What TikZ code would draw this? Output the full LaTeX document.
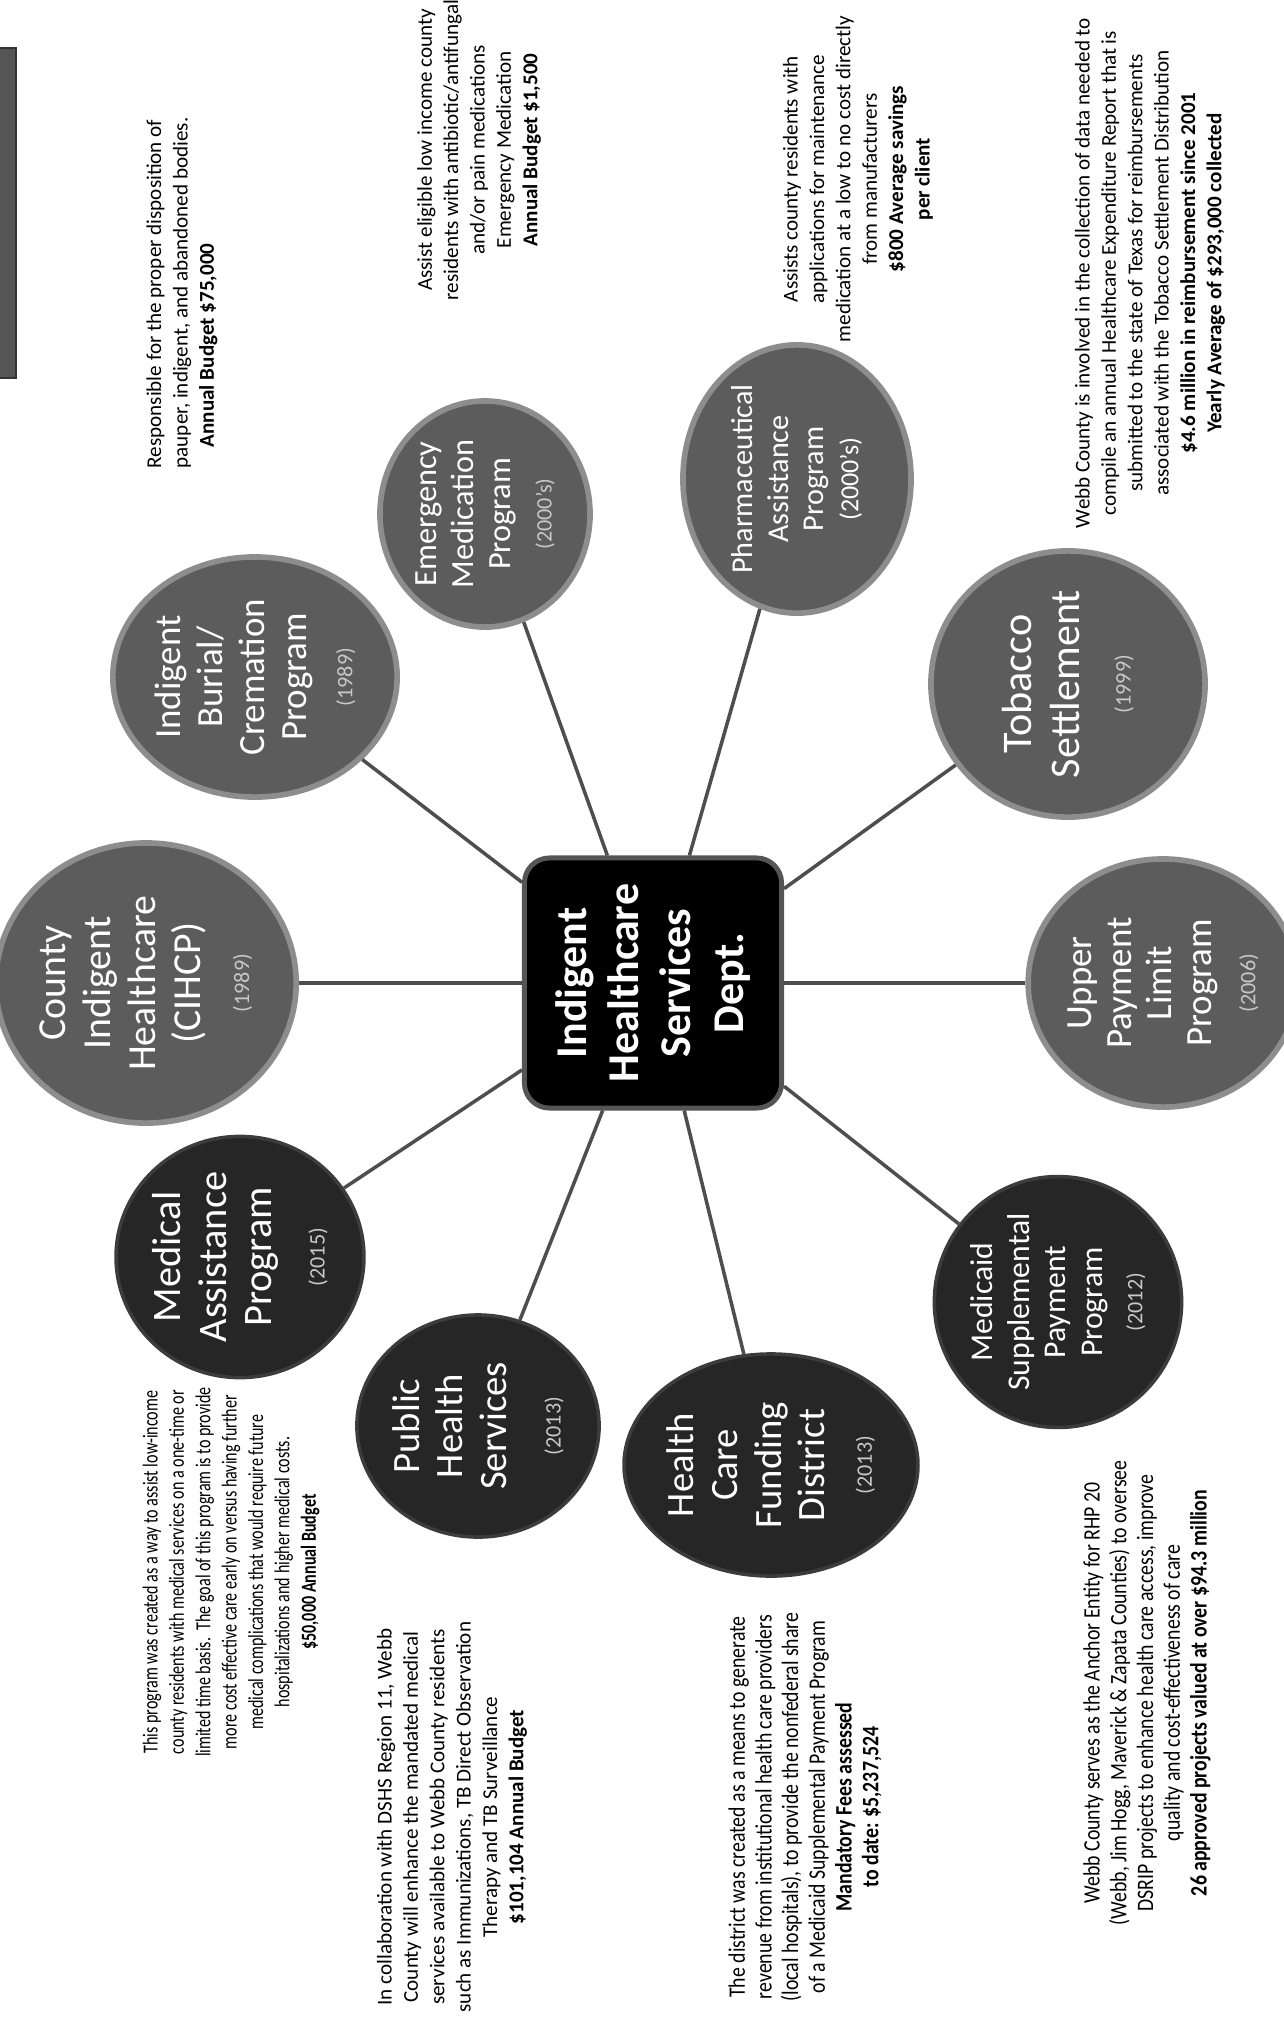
\documentclass[tikz,border=0pt]{standalone}
\usepackage{fontspec}
\setmainfont{Carlito}
\newfontfamily\condfont[FakeStretch=0.84]{Carlito}
\newfontfamily\narrowfont[FakeStretch=0.75]{Carlito}
\usetikzlibrary{shapes.geometric,positioning}
\definecolor{progGray}{RGB}{92,92,92}
\definecolor{progDark}{RGB}{38,38,38}
\definecolor{linkGray}{RGB}{78,78,78}
\definecolor{yearGray}{RGB}{200,200,200}
\definecolor{boxGray}{RGB}{85,85,85}

\tikzset{
  prog/.style={ellipse, inner sep=0pt, text=white, align=center, rotate=90},
  lightprog/.style={prog, fill=progGray, draw=progGray!70, line width=1.6pt},
  darkprog/.style={prog, fill=progDark, draw=progDark!90, line width=1pt},
  link/.style={draw=linkGray, line width=1pt},
  desc/.style={rotate=90, align=center, inner sep=0pt, font=\fontsize{6}{7.5}\selectfont},
  conddesc/.style={desc, font=\condfont\fontsize{6.7}{7.6}\selectfont},
  narrowdesc/.style={desc, font=\narrowfont\fontsize{6.1}{7.5}\selectfont},
}
\newcommand{\yr}[1]{{\fontsize{6.3}{8}\selectfont\color{yearGray}#1}}

\begin{document}
\begin{tikzpicture}[x=0.01cm, y=-0.01cm]
  \useasboundingbox (0,0) rectangle (1284,2041);
  \clip (0,0) rectangle (1284,2041);

  % corner tab
  \fill [boxGray, draw=black!80, line width=0.6pt] (-10,48) rectangle (16,378);

  % department:
  \node [rectangle, rounded corners=0.25cm, fill=black, draw=boxGray, line width=1.4pt,
         rotate=90, minimum width=2.5cm, minimum height=2.57cm, inner sep=0pt,
         text=white, align=center, font=\bfseries\fontsize{12.5}{14.8}\selectfont]
    (dept) at (653,983) {Indigent\\Healthcare\\Services\\Dept.};

  % programs, upper half:
  \node [lightprog, minimum width=2.8cm, minimum height=2.74cm, font=\fontsize{11.3}{12.8}\selectfont]
    (cihcp) at (146,983) {County\\Indigent\\Healthcare\\(CIHCP)\\[1pt]\yr{(1989)}};
  \node [lightprog, minimum width=2.4cm, minimum height=2.3cm, font=\fontsize{10.5}{12}\selectfont]
    (burial) at (255,677) {Indigent\\Burial/\\Cremation\\Program\\[1pt]\yr{(1989)}};
  \node [lightprog, minimum width=2.26cm, minimum height=2.1cm, font=\fontsize{9.2}{10.6}\selectfont]
    (emerg) at (485,514) {Emergency\\Medication\\Program\\[1pt]\yr{(2000’s)}};
  \node [lightprog, minimum width=2.26cm, minimum height=2.28cm, font=\fontsize{8.6}{10}\selectfont]
    (pharma) at (797,479) {Pharmaceutical\\Assistance\\Program\\{\fontsize{7.4}{9}\selectfont(2000’s)}};
  \node [lightprog, minimum width=2.6cm, minimum height=2.74cm, font=\fontsize{12}{13.6}\selectfont]
    (tobacco) at (1068,684) {Tobacco\\Settlement\\[1pt]\yr{(1999)}};
  \node [lightprog, minimum width=2.48cm, minimum height=2.42cm, font=\fontsize{10.5}{11.4}\selectfont]
    (upl) at (1163,983) {Upper\\Payment\\Limit\\Program\\[1pt]\yr{(2006)}};

  % programs, lower half:
  \node [darkprog, minimum width=2.22cm, minimum height=2.02cm, font=\fontsize{9}{10.4}\selectfont]
    (msp) at (1058,1302) {Medicaid\\Supplemental\\Payment\\Program\\[1pt]\yr{(2012)}};
  \node [darkprog, minimum width=2.22cm, minimum height=2.14cm, font=\fontsize{11}{12.4}\selectfont]
    (hcfd) at (771,1465) {Health\\Care\\Funding\\District\\[1pt]\yr{(2013)}};
  \node [darkprog, minimum width=2.22cm, minimum height=2.14cm, font=\fontsize{11}{12.4}\selectfont]
    (phs) at (478,1426) {Public\\Health\\Services\\[3pt]\yr{(2013)}};
  \node [darkprog, minimum width=2.22cm, minimum height=2.24cm, font=\fontsize{11.5}{13}\selectfont]
    (map) at (240,1257) {Medical\\Assistance\\Program\\[2pt]\yr{(2015)}};

  % spokes:
  \draw [link] (cihcp) -- (dept);
  \draw [link] (burial) -- (dept);
  \draw [link] (emerg) -- (dept);
  \draw [link] (pharma) -- (dept);
  \draw [link] (tobacco) -- (dept);
  \draw [link] (upl) -- (dept);
  \draw [link] (msp) -- (dept);
  \draw [link] (hcfd) -- (dept);
  \draw [link] (phs) -- (dept);
  \draw [link] (map) -- (dept);

  % descriptions:
  \node [desc, align=left, anchor=west] (burialtxt) at (182,469)
    {Responsible for the proper disposition of\\pauper, indigent, and abandoned bodies.\\\hspace*{1em}\textbf{Annual Budget \$75,000}};
  \node [desc] (emergtxt) at (479,150)
    {Assist eligible low income county\\residents with antibiotic/antifungal\\and/or pain medications\\Emergency Medication\\\textbf{Annual Budget \$1,500}};
  \node [desc] (pharmatxt) at (858,179)
    {Assists county residents with\\applications for maintenance\\medication at a low to no cost directly\\from manufacturers\\\textbf{\$800 Average savings}\\\textbf{per client}};
  \node [desc] (tobaccotxt) at (1150,273)
    {Webb County is involved in the collection of data needed to\\compile an annual Healthcare Expenditure Report that is\\submitted to the state of Texas for reimbursements\\associated with the Tobacco Settlement Distribution\\\textbf{\$4.6 million in reimbursement since 2001}\\\textbf{Yearly Average of \$293,000 collected}};
  \node [narrowdesc] (maptxt) at (231,1572)
    {This program was created as a way to assist low-income\\county residents with medical services on a one-time or\\limited time basis.\ \ The goal of this program is to provide\\more cost effective care early on versus having further\\medical complications that would require future\\hospitalizations and higher medical costs.\\\textbf{\$50,000 Annual Budget}};
  \node [desc] (phstxt) at (452,1817)
    {In collaboration with DSHS Region 11, Webb\\County will enhance the mandated medical\\services available to Webb County residents\\such as Immunizations, TB Direct Observation\\Therapy and TB Surveillance\\\textbf{\$101,104 Annual Budget}};
  \node [conddesc] (hcfdtxt) at (805,1807)
    {The district was created as a means to generate\\revenue from institutional health care providers\\(local hospitals), to provide the nonfederal share\\of a Medicaid Supplemental Payment Program\\\textbf{Mandatory Fees assessed}\\\textbf{to date: \$5,237,524}};
  \node [conddesc] (msptxt) at (1147,1693)
    {Webb County serves as the Anchor Entity for RHP 20\\(Webb, Jim Hogg, Maverick \& Zapata Counties) to oversee\\DSRIP projects to enhance health care access, improve\\quality and cost-effectiveness of care\\\textbf{26 approved projects valued at over \$94.3 million}};

\end{tikzpicture}
\end{document}
